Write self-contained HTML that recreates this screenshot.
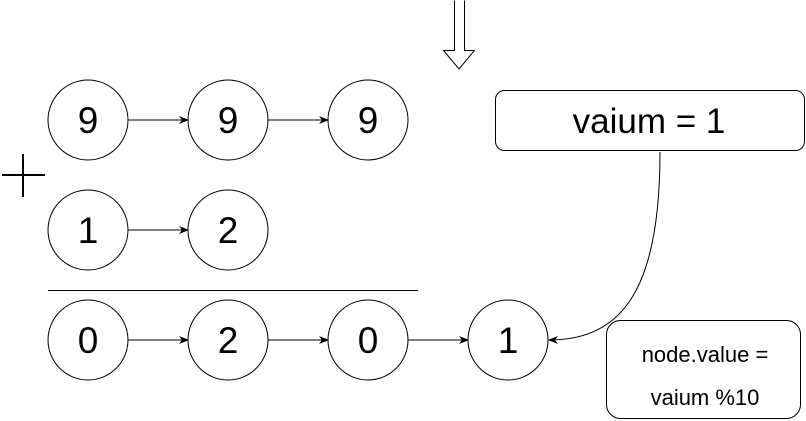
<!DOCTYPE html>
<html><head><style>html,body{margin:0;padding:0;background:#fff}</style></head><body>
<svg width="806" height="421" xmlns="http://www.w3.org/2000/svg" style="display:block">
<defs><marker id="a" markerWidth="10" markerHeight="8" refX="9" refY="4" orient="auto" markerUnits="userSpaceOnUse"><path d="M0,0 L10,4 L0,8 L3,4 Z" fill="#000"/></marker></defs>
<g fill="#fff" stroke="#000" stroke-width="1">
<circle cx="88" cy="120" r="40"/><circle cx="228" cy="120" r="40"/><circle cx="368" cy="120" r="40"/>
<circle cx="88" cy="230" r="40"/><circle cx="228" cy="230" r="40"/>
<circle cx="88" cy="340" r="40"/><circle cx="228" cy="340" r="40"/><circle cx="368" cy="340" r="40"/><circle cx="508" cy="340" r="40"/>
<rect x="495.5" y="90.5" width="309" height="60" rx="9"/>
<rect x="606.5" y="320.5" width="194" height="98" rx="14"/>
<path d="M454.5 0.5 V50.5 H443.5 L459 69 L474.5 50.5 H464.5 V0.5"/>
</g>
<g stroke="#000" stroke-width="1" fill="none">
<line x1="128" y1="120" x2="188" y2="120" marker-end="url(#a)"/>
<line x1="268" y1="120" x2="328" y2="120" marker-end="url(#a)"/>
<line x1="128" y1="230" x2="188" y2="230" marker-end="url(#a)"/>
<line x1="128" y1="340" x2="188" y2="340" marker-end="url(#a)"/>
<line x1="268" y1="340" x2="328" y2="340" marker-end="url(#a)"/>
<line x1="408" y1="340" x2="468" y2="340" marker-end="url(#a)"/>
<line x1="48" y1="290.5" x2="418" y2="290.5"/>
<path d="M660 152 C660 285 625 340 549 340" marker-end="url(#a)"/>
</g>
<g stroke="#000" stroke-width="2"><line x1="2" y1="175" x2="45" y2="175"/><line x1="23" y1="154" x2="23" y2="197"/></g>
<g font-family="Liberation Sans, sans-serif" font-size="37" text-anchor="middle" fill="#000">
<text x="88" y="133">9</text><text x="228" y="133">9</text><text x="368" y="133">9</text>
<text x="88" y="243">1</text><text x="228" y="243">2</text>
<text x="88" y="353">0</text><text x="228" y="353">2</text><text x="368" y="353">0</text><text x="508" y="353">1</text>
<text x="649" y="133" font-size="35">vaium = 1</text>
<text x="705" y="362" font-size="22">node.value =</text>
<text x="705" y="405" font-size="22">vaium %10</text>
</g>
</svg>
</body></html>
